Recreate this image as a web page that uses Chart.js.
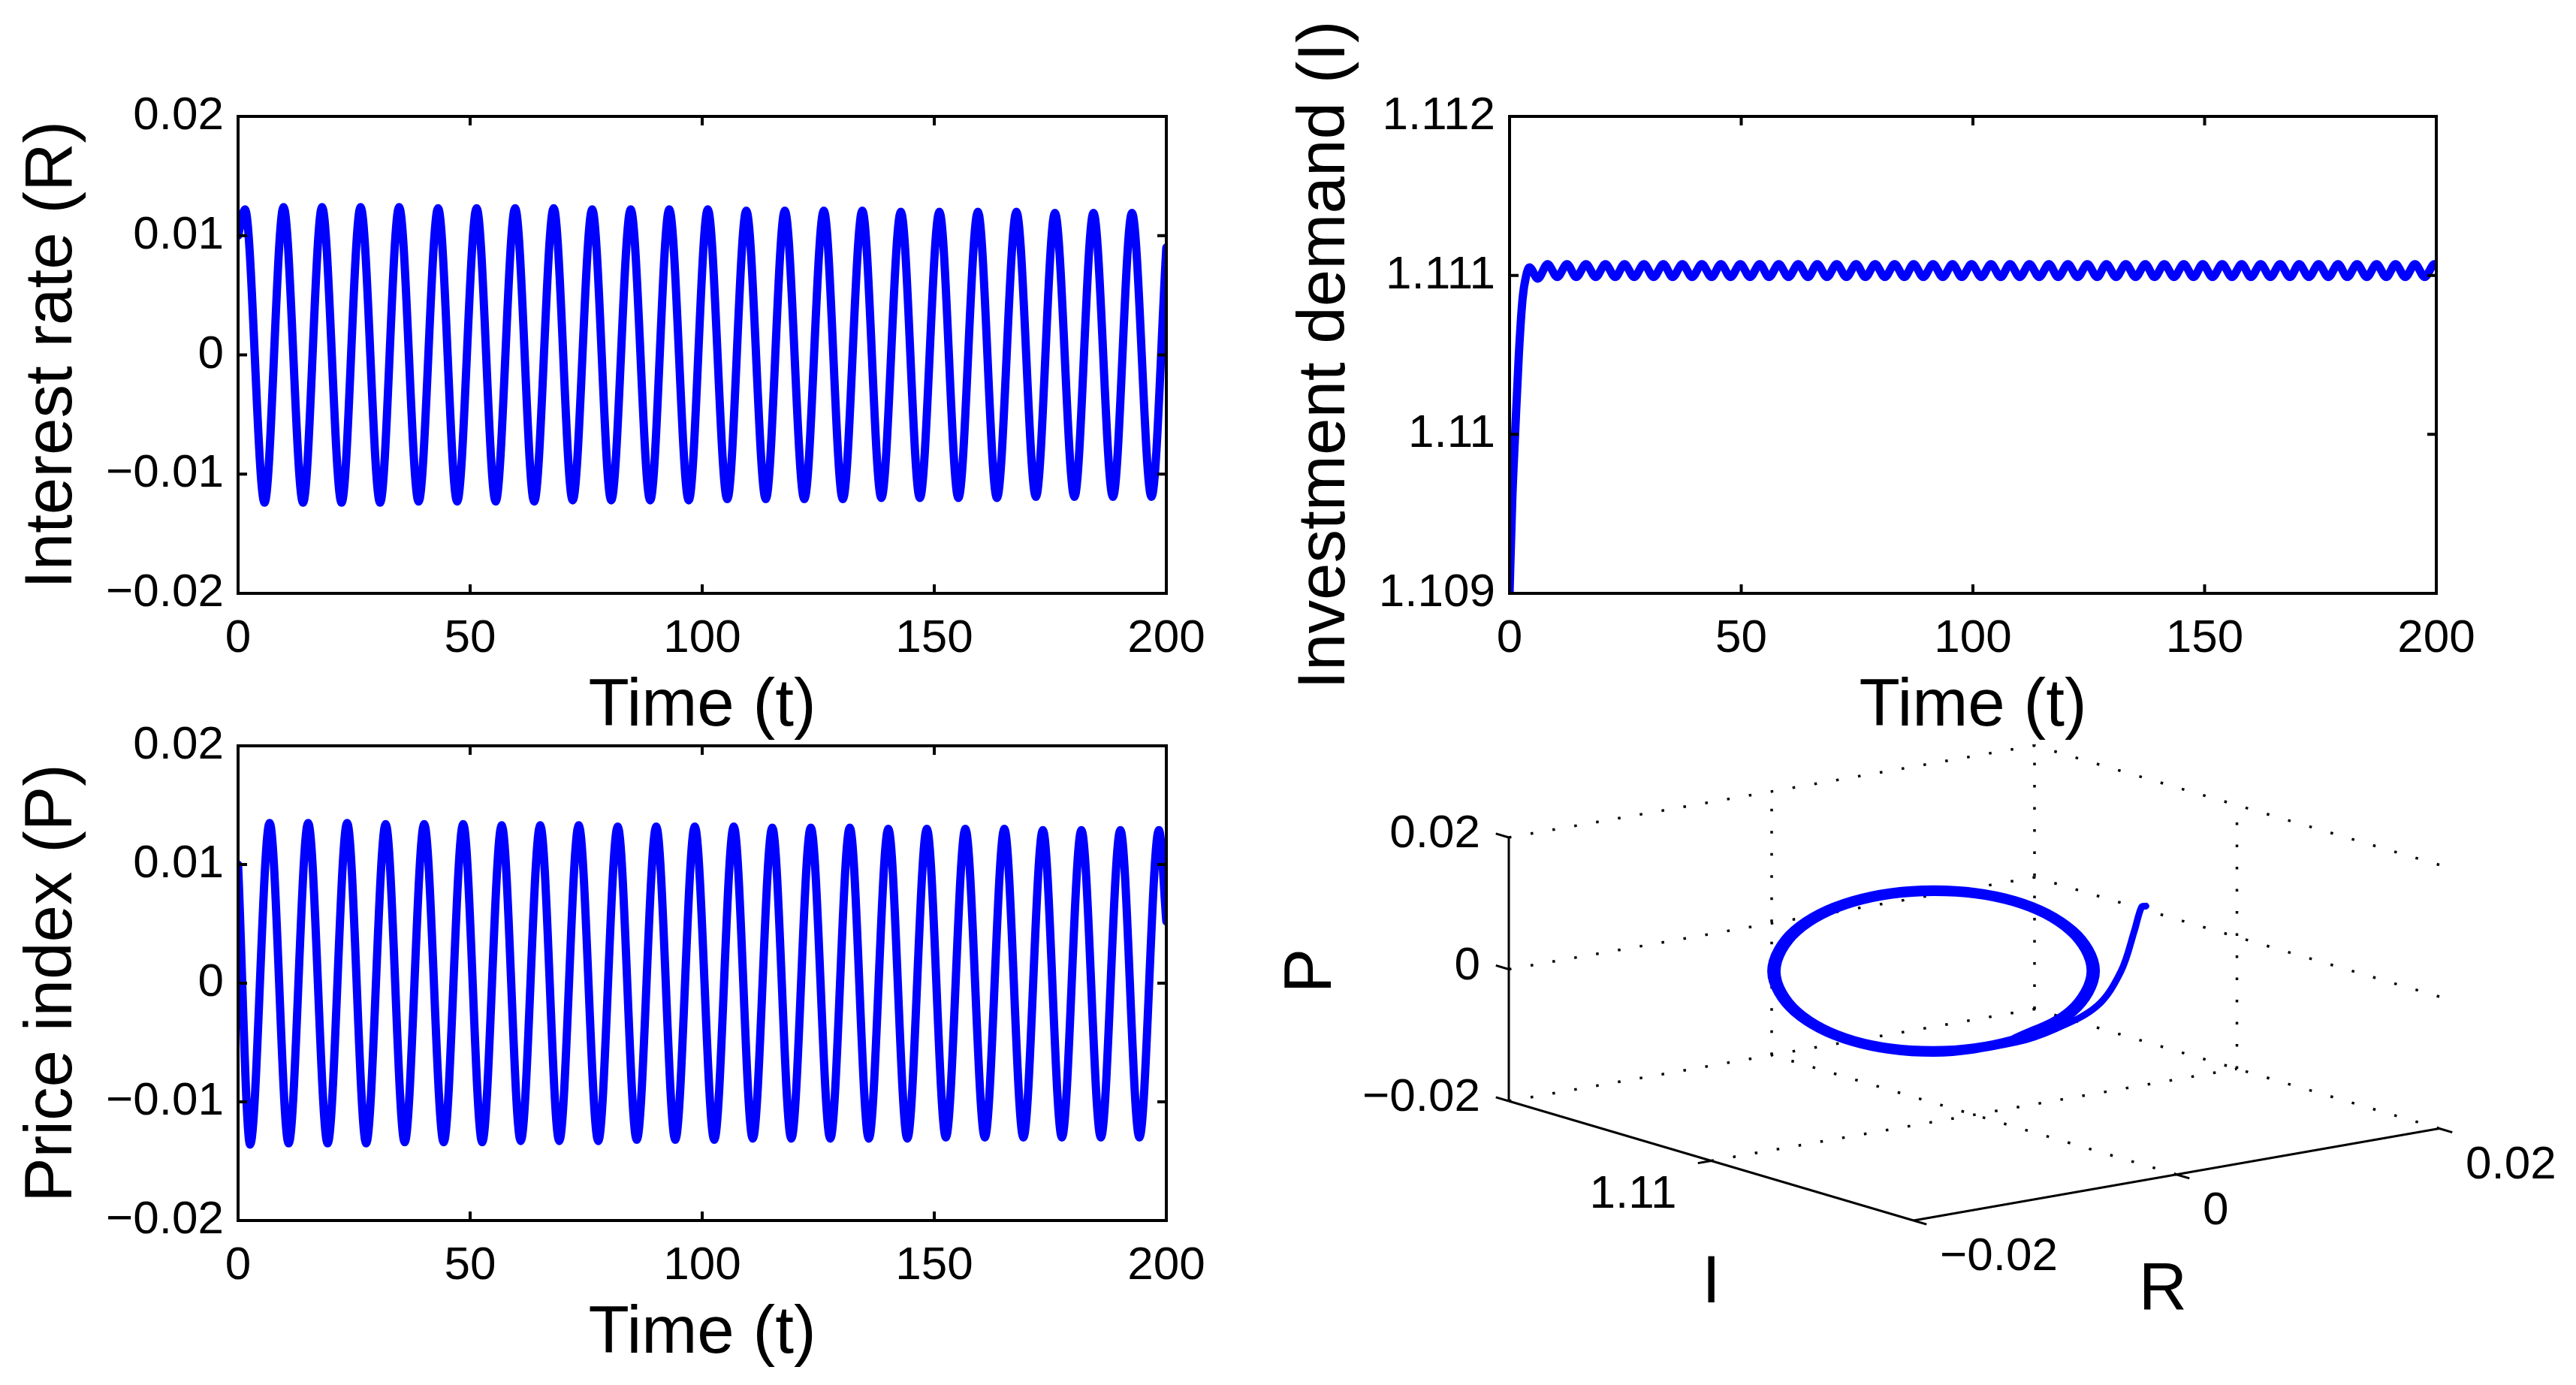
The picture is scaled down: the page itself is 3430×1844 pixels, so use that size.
<!DOCTYPE html>
<html>
<head>
<meta charset="utf-8">
<script src="https://cdn.jsdelivr.net/npm/chart.js@4.4.1/dist/chart.umd.min.js"></script>
<style>
  html, body { margin: 0; padding: 0; background: #fff; }
  body { width: 3430px; height: 1844px; position: relative; overflow: hidden; }
  canvas { position: absolute; }
</style>
</head>
<body>
<canvas id="rChart" width="1715" height="1000" style="left:0;top:0"></canvas>
<canvas id="iChart" width="1730" height="1000" style="left:1700px;top:0"></canvas>
<canvas id="pChart" width="1715" height="935" style="left:0;top:900px"></canvas>
<canvas id="phaseChart" width="1730" height="894" style="left:1700px;top:950px"></canvas>
<script>
// Interest rate R(t): start, then alternating peaks / troughs, end
const rTime = [
  0,
  1.5, 5.7, 9.8, 14.0, 18.1, 22.3, 26.4, 30.6,
  34.7, 38.9, 43.1, 47.2, 51.4, 55.5, 59.7, 63.8,
  68.0, 72.1, 76.3, 80.4, 84.6, 88.8, 92.9, 97.1,
  101.2, 105.4, 109.5, 113.7, 117.8, 122.0, 126.2, 130.3,
  134.5, 138.6, 142.8, 146.9, 151.1, 155.2, 159.4, 163.5,
  167.7, 171.9, 176.0, 180.2, 184.3, 188.5, 192.6, 196.8,
  200
];
const rValue = [
  0.0100,
  0.0122, -0.0124, 0.0124, -0.0124, 0.0124, -0.0124, 0.0124, -0.0124,
  0.0124, -0.0123, 0.0123, -0.0123, 0.0123, -0.0123, 0.0123, -0.0123,
  0.0123, -0.0122, 0.0122, -0.0122, 0.0122, -0.0122, 0.0122, -0.0122,
  0.0122, -0.0121, 0.0121, -0.0121, 0.0121, -0.0121, 0.0121, -0.0121,
  0.0121, -0.0120, 0.0120, -0.0120, 0.0120, -0.0120, 0.0120, -0.0120,
  0.0120, -0.0119, 0.0119, -0.0119, 0.0119, -0.0119, 0.0119, -0.0119,
  0.0090
];

// Investment demand I(t): fast rise, then small ripple
const iTime = [
  0, 0.6, 1.2, 2.0, 2.8, 3.6, 4.3, 6.1,
  8.2, 10.3, 12.4, 14.4, 16.5, 18.6, 20.7, 22.8, 24.8, 26.9,
  29.0, 31.1, 33.2, 35.2, 37.3, 39.4, 41.5, 43.6, 45.6, 47.7,
  49.8, 51.9, 54.0, 56.0, 58.1, 60.2, 62.3, 64.4, 66.4, 68.5,
  70.6, 72.7, 74.8, 76.8, 78.9, 81.0, 83.1, 85.2, 87.2, 89.3,
  91.4, 93.5, 95.6, 97.6, 99.7, 101.8, 103.9, 106.0, 108.0, 110.1,
  112.2, 114.3, 116.4, 118.4, 120.5, 122.6, 124.7, 126.8, 128.8, 130.9,
  133.0, 135.1, 137.2, 139.2, 141.3, 143.4, 145.5, 147.6, 149.6, 151.7,
  153.8, 155.9, 158.0, 160.0, 162.1, 164.2, 166.3, 168.4, 170.4, 172.5,
  174.6, 176.7, 178.8, 180.8, 182.9, 185.0, 187.1, 189.2, 191.2, 193.3,
  195.4, 197.5, 199.6,
  200
];
const iValue = [
  1.1090, 1.1096, 1.1100, 1.1105, 1.11085, 1.1110, 1.11105, 1.11098,
  1.11107, 1.11099, 1.11107, 1.11099, 1.11107, 1.11099, 1.11107, 1.11099, 1.11107, 1.11099,
  1.11107, 1.11099, 1.11107, 1.11099, 1.11107, 1.11099, 1.11107, 1.11099, 1.11107, 1.11099,
  1.11107, 1.11099, 1.11107, 1.11099, 1.11107, 1.11099, 1.11107, 1.11099, 1.11107, 1.11099,
  1.11107, 1.11099, 1.11107, 1.11099, 1.11107, 1.11099, 1.11107, 1.11099, 1.11107, 1.11099,
  1.11107, 1.11099, 1.11107, 1.11099, 1.11107, 1.11099, 1.11107, 1.11099, 1.11107, 1.11099,
  1.11107, 1.11099, 1.11107, 1.11099, 1.11107, 1.11099, 1.11107, 1.11099, 1.11107, 1.11099,
  1.11107, 1.11099, 1.11107, 1.11099, 1.11107, 1.11099, 1.11107, 1.11099, 1.11107, 1.11099,
  1.11107, 1.11099, 1.11107, 1.11099, 1.11107, 1.11099, 1.11107, 1.11099, 1.11107, 1.11099,
  1.11107, 1.11099, 1.11107, 1.11099, 1.11107, 1.11099, 1.11107, 1.11099, 1.11107, 1.11099,
  1.11107, 1.11099, 1.11107,
  1.11106
];

// Price index P(t): start, then alternating troughs / peaks, end
const pTime = [
  0,
  2.6, 6.8, 10.9, 15.1, 19.3, 23.5, 27.6, 31.8,
  35.9, 40.1, 44.3, 48.5, 52.6, 56.8, 60.9, 65.1,
  69.2, 73.4, 77.6, 81.8, 85.9, 90.1, 94.2, 98.4,
  102.6, 106.8, 110.9, 115.1, 119.2, 123.4, 127.6, 131.8,
  135.9, 140.1, 144.2, 148.4, 152.5, 156.7, 160.9, 165.1,
  169.2, 173.4, 177.5, 181.7, 185.9, 190.1, 194.2, 198.4,
  200
];
const pValue = [
  0.0100,
  -0.0136, 0.0135, -0.0135, 0.0135, -0.0135, 0.0135, -0.0135, 0.0134,
  -0.0134, 0.0134, -0.0134, 0.0134, -0.0134, 0.0133, -0.0133, 0.0133,
  -0.0133, 0.0133, -0.0133, 0.0132, -0.0132, 0.0132, -0.0132, 0.0132,
  -0.0132, 0.0132, -0.0131, 0.0131, -0.0131, 0.0131, -0.0131, 0.0131,
  -0.0131, 0.0130, -0.0131, 0.0130, -0.0130, 0.0130, -0.0130, 0.0130,
  -0.0130, 0.0129, -0.0130, 0.0129, -0.0130, 0.0129, -0.0130, 0.0129,
  0.0052
];

// phase portrait (R, I, P): transient tail, then the cycle going round
const orbitR = [
  0.0100, 0.0112, 0.0119, 0.0121, 0.0112, 0.0090,
  0.0062, 0, -0.0062, -0.0107, -0.0124, -0.0107, -0.0062, 0, 0.0062, 0.0107, 0.0124, 0.0107,
  0.0061, 0, -0.0061, -0.0105, -0.0122, -0.0105, -0.0061, 0, 0.0061, 0.0105, 0.0122, 0.0105,
  0.0060, 0, -0.0060, -0.0103, -0.0119, -0.0103, -0.0060, 0, 0.0060, 0.0103, 0.0119, 0.0103, 0.0060
];
const orbitI = [
  1.1090, 1.1095, 1.1099, 1.1103, 1.1106, 1.1109,
  1.1110, 1.1110, 1.1110, 1.1110, 1.1110, 1.1110, 1.1110, 1.1110, 1.1110, 1.1110, 1.1110, 1.1110,
  1.1110, 1.1110, 1.1110, 1.1110, 1.1110, 1.1110, 1.1110, 1.1110, 1.1110, 1.1110, 1.1110, 1.1110,
  1.1110, 1.1110, 1.1110, 1.1110, 1.1110, 1.1110, 1.1110, 1.1110, 1.1110, 1.1110, 1.1110, 1.1110, 1.1110
];
const orbitP = [
  0.0100, 0.0085, 0.0040, -0.0030, -0.0085, -0.0117,
  -0.0130, -0.0125, -0.0087, -0.0025, 0.0043, 0.0100, 0.0130, 0.0125, 0.0087, 0.0025, -0.0043, -0.0100,
  -0.0127, -0.0122, -0.0085, -0.0025, 0.0042, 0.0097, 0.0127, 0.0122, 0.0085, 0.0025, -0.0042, -0.0097,
  -0.0124, -0.0119, -0.0083, -0.0024, 0.0041, 0.0095, 0.0124, 0.0119, 0.0083, 0.0024, -0.0041, -0.0095, -0.0124
];

// tick values
const timeTicks = [0, 50, 100, 150, 200];
const rateTicks = [-0.02, -0.01, 0, 0.01, 0.02];
const invTicks = [1.109, 1.11, 1.111, 1.112];
const priceTicks = [-0.02, -0.01, 0, 0.01, 0.02];
const rTicks3d = [-0.02, 0, 0.02];
const iTicks3d = [1.11];
const pTicks3d = [-0.02, 0, 0.02];
const rLim = [-0.02, 0.02], iLim = [1.105, 1.115], pLim = [-0.02, 0.02];

const FONT = '"Liberation Sans", Arial, Helvetica, sans-serif';
const tickFont = { family: FONT, size: 62 };
const titleFont = { family: FONT, size: 89 };
Chart.defaults.color = '#000';

const fmt = v => String(Number(v.toFixed(4))).replace('-', '\u2212');

// MATLAB style box with inward ticks on all four sides
const boxPlugin = {
  id: 'box',
  afterDatasetsDraw(chart) {
    const { ctx, chartArea: a, scales: { x, y } } = chart;
    const tl = 12;
    ctx.save();
    ctx.strokeStyle = '#000';
    ctx.lineWidth = 4;
    ctx.beginPath();
    x.ticks.forEach(t => {
      const px = x.getPixelForValue(t.value);
      ctx.moveTo(px, a.bottom); ctx.lineTo(px, a.bottom - tl);
      ctx.moveTo(px, a.top); ctx.lineTo(px, a.top + tl);
    });
    y.ticks.forEach(t => {
      const py = y.getPixelForValue(t.value);
      ctx.moveTo(a.left, py); ctx.lineTo(a.left + tl, py);
      ctx.moveTo(a.right, py); ctx.lineTo(a.right - tl, py);
    });
    ctx.stroke();
    ctx.strokeRect(a.left, a.top, a.right - a.left, a.bottom - a.top);
    ctx.restore();
  }
};

function timeChart(id, times, values, yTicks, yTitle, area) {
  return new Chart(document.getElementById(id), {
    type: 'line',
    data: {
      datasets: [{
        data: times.map((t, k) => ({ x: t, y: values[k] })),
        borderColor: '#0000ff',
        borderWidth: 11,
        pointRadius: 0,
        cubicInterpolationMode: 'monotone',
        borderJoinStyle: 'round',
        borderCapStyle: 'round'
      }]
    },
    options: {
      responsive: false,
      animation: false,
      layout: { padding: { top: area.top, right: area.right, left: 0, bottom: 0 } },
      plugins: { legend: { display: false }, tooltip: { enabled: false } },
      scales: {
        x: {
          type: 'linear', min: 0, max: 200,
          afterBuildTicks: s => { s.ticks = timeTicks.map(v => ({ value: v })); },
          ticks: { padding: 24, maxRotation: 0, autoSkip: false, font: tickFont, color: '#000' },
          grid: { display: false, drawTicks: false },
          border: { display: false },
          title: { display: true, text: 'Time (t)', font: titleFont, color: '#000', padding: { top: 0, bottom: 5 } },
          afterFit: s => { s.height = area.bottom; }
        },
        y: {
          min: yTicks[0], max: yTicks[yTicks.length - 1],
          afterBuildTicks: s => { s.ticks = yTicks.map(v => ({ value: v })); },
          ticks: { padding: 19, font: tickFont, color: '#000', callback: v => fmt(v) },
          grid: { display: false, drawTicks: false },
          border: { display: false },
          title: { display: true, text: yTitle, font: titleFont, color: '#000', padding: { top: area.titlePad, bottom: 0 } },
          afterFit: s => { s.width = area.left; }
        }
      }
    },
    plugins: [boxPlugin]
  });
}

timeChart('rChart', rTime, rValue, rateTicks, 'Interest rate (R)',
  { top: 155, right: 162, left: 317, bottom: 210, titlePad: 17 });
timeChart('iChart', iTime, iValue, invTicks, 'Investment demand (I)',
  { top: 155, right: 186, left: 310, bottom: 210, titlePad: 12 });
timeChart('pChart', pTime, pValue, priceTicks, 'Price index (P)',
  { top: 93, right: 162, left: 317, bottom: 210, titlePad: 17 });

// ---- 3D phase portrait, oblique view projected onto the canvas ----
const view = { ox: 848, oy: 675, ex: [700, -122.5], ey: [-539, -159], ez: [0, -351] };

function proj(r, i, p) {
  const u = (r - rLim[0]) / (rLim[1] - rLim[0]);
  const v = (i - iLim[0]) / (iLim[1] - iLim[0]);
  const w = (p - pLim[0]) / (pLim[1] - pLim[0]);
  return {
    x: view.ox + u * view.ex[0] + v * view.ey[0] + w * view.ez[0],
    y: view.oy + u * view.ex[1] + v * view.ey[1] + w * view.ez[1]
  };
}
function unit(vec, s) {
  const n = Math.hypot(vec[0], vec[1]);
  return [vec[0] / n * s, vec[1] / n * s];
}
function offset(pt, d) { return { x: pt.x + d[0], y: pt.y + d[1] }; }

const [rMin, rMax] = rLim, [iMin, iMax] = iLim, [pMin, pMax] = pLim;

// dotted grid on the back walls and the floor
const gridSegs = [];
pTicks3d.forEach(p => gridSegs.push([[rMin, iMax, p], [rMax, iMax, p]]));
rTicks3d.filter(r => r !== rMin).forEach(r => gridSegs.push([[r, iMax, pMin], [r, iMax, pMax]]));
pTicks3d.forEach(p => gridSegs.push([[rMax, iMin, p], [rMax, iMax, p]]));
iTicks3d.forEach(i => gridSegs.push([[rMax, i, pMin], [rMax, i, pMax]]));
rTicks3d.filter(r => r !== rMin && r !== rMax).forEach(r => gridSegs.push([[r, iMin, pMin], [r, iMax, pMin]]));
iTicks3d.forEach(i => gridSegs.push([[rMin, i, pMin], [rMax, i, pMin]]));

const axisSegs = [
  [[rMin, iMax, pMin], [rMin, iMax, pMax]],
  [[rMin, iMin, pMin], [rMin, iMax, pMin]],
  [[rMin, iMin, pMin], [rMax, iMin, pMin]]
];

const tickLen = 18;
const tickSegs = [];
pTicks3d.forEach(p => { const a = proj(rMin, iMax, p); tickSegs.push([a, offset(a, unit(view.ey, tickLen))]); });
iTicks3d.forEach(i => { const a = proj(rMin, i, pMin); tickSegs.push([a, offset(a, unit(view.ex, -tickLen))]); });
rTicks3d.forEach(r => { const a = proj(r, iMin, pMin); tickSegs.push([a, offset(a, unit(view.ey, -tickLen))]); });

const datasets3d = [{
  data: orbitR.map((r, k) => proj(r, orbitI[k], orbitP[k])),
  showLine: true, borderColor: '#0000ff', borderWidth: 9, pointRadius: 0,
  tension: 0.35, borderJoinStyle: 'round', borderCapStyle: 'round', order: 0
}];
gridSegs.forEach(s => datasets3d.push({
  data: [proj(...s[0]), proj(...s[1])],
  showLine: true, borderColor: '#000', borderWidth: 3.5, borderDash: [3.5, 26],
  pointRadius: 0, order: 3
}));
axisSegs.forEach(s => datasets3d.push({
  data: [proj(...s[0]), proj(...s[1])],
  showLine: true, borderColor: '#000', borderWidth: 3, pointRadius: 0, order: 2
}));
tickSegs.forEach(s => datasets3d.push({
  data: s, showLine: true, borderColor: '#000', borderWidth: 3, pointRadius: 0, order: 2
}));

const phaseText = {
  id: 'phaseText',
  afterDraw(chart) {
    const ctx = chart.ctx;
    ctx.save();
    ctx.fillStyle = '#000';
    ctx.textBaseline = 'middle';
    ctx.font = '62px ' + FONT;
    ctx.textAlign = 'right';
    pTicks3d.forEach(p => { const a = proj(rMin, iMax, p); ctx.fillText(fmt(p), a.x - 38, a.y - 4); });
    iTicks3d.forEach(i => { const a = proj(rMin, i, pMin); ctx.fillText(fmt(i), a.x - 46, a.y + 45); });
    ctx.textAlign = 'left';
    rTicks3d.forEach(r => { const a = proj(r, iMin, pMin); ctx.fillText(fmt(r), a.x + 35, a.y + 49); });

    ctx.font = '89px ' + FONT;
    ctx.textAlign = 'center';
    const rMid = proj(0, iMin, pMin);
    ctx.fillText('R', rMid.x - 18, rMid.y + 155);
    const iMid = proj(rMin, (iMin + iMax) / 2, pMin);
    ctx.fillText('I', iMid.x, iMid.y + 164);
    const pMid = proj(rMin, iMax, 0);
    ctx.translate(pMid.x - 262, pMid.y + 2);
    ctx.rotate(-Math.PI / 2);
    ctx.fillText('P', 0, 0);
    ctx.restore();
  }
};

const phaseCanvas = document.getElementById('phaseChart');
new Chart(phaseCanvas, {
  type: 'scatter',
  data: { datasets: datasets3d },
  options: {
    responsive: false,
    animation: false,
    layout: { padding: 0 },
    plugins: { legend: { display: false }, tooltip: { enabled: false } },
    elements: { line: { clip: false } },
    scales: {
      x: { type: 'linear', display: false, min: 0, max: phaseCanvas.width },
      y: { type: 'linear', display: false, min: 0, max: phaseCanvas.height, reverse: true }
    }
  },
  plugins: [phaseText]
});
</script>
</body>
</html>
